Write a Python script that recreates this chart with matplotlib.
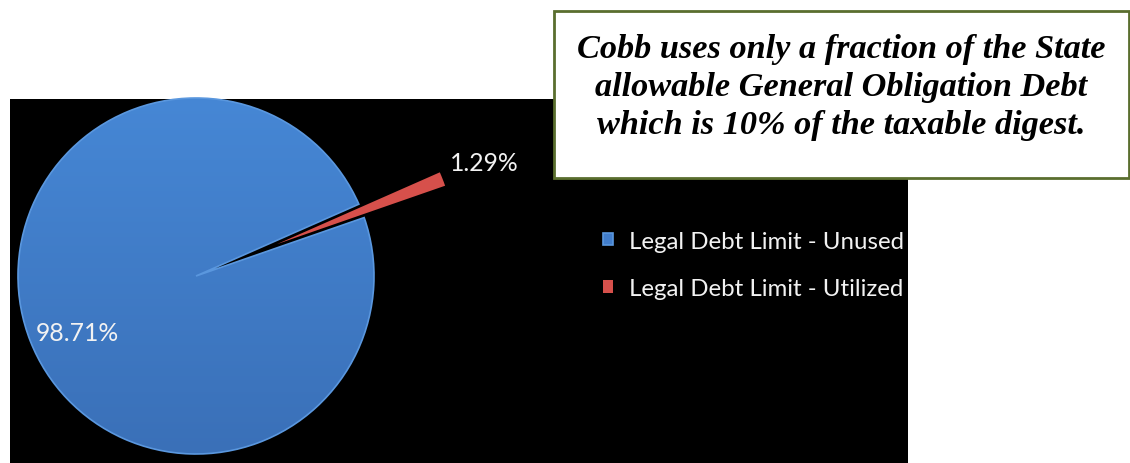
import numpy as np
import matplotlib
matplotlib.use("Agg")
import matplotlib.pyplot as plt
from matplotlib.patches import Rectangle, Wedge
from matplotlib.colors import LinearSegmentedColormap

# ---- data ----
categories = ["Legal Debt Limit - Unused", "Legal Debt Limit - Utilized"]
shares = [98.71, 1.29]
colors = ["#417DCB", "#D6504B"]
note = ("Cobb uses only a fraction of the State\n"
        "allowable General Obligation Debt\n"
        "which is 10% of the taxable digest.")

W, H = 1130, 464
fig = plt.figure(figsize=(W / 100, H / 100), dpi=100)
fig.patch.set_facecolor("white")
ax = fig.add_axes([0, 0, 1, 1])

# black chart area
ax.add_patch(Rectangle((10, 0), 898, 364, facecolor="black", edgecolor="none", zorder=0))

R = 178
cx, cy = 196, H - 277
wedges, _, autotexts = ax.pie(
    shares, colors=colors, startangle=23.8, radius=R, center=(cx, cy),
    explode=[0, 87], frame=True, autopct="%.2f%%",
    wedgeprops=dict(linewidth=0),
    textprops=dict(color="#F2F2F2", fontsize=17.8, family=["Lato", "DejaVu Sans"]),
)

# soft vertical shading on the large slice
grad = np.linspace(1, 0, 256).reshape(-1, 1)
cmap = LinearSegmentedColormap.from_list("bl", ["#3A70B8", "#4687D5"])
im = ax.imshow(grad, cmap=cmap, extent=(cx - R, cx + R, cy - R, cy + R),
               origin="upper", aspect="auto", zorder=1.5, interpolation="bilinear")
im.set_clip_path(wedges[0])
bg = Wedge(wedges[0].center, wedges[0].r, wedges[0].theta1, wedges[0].theta2,
           facecolor=colors[0], zorder=1.4)
ax.add_patch(bg)
wedges[0].set_edgecolor("#5A97DE")
wedges[0].set_linewidth(1.2)
wedges[0].set_zorder(1.6)
wedges[0].set_facecolor("none")

label_dist = [0.74, 1.25]
label_turn = [4.0, 0.0]
for w, t, d, a in zip(wedges, autotexts, label_dist, label_turn):
    th = np.deg2rad((w.theta1 + w.theta2) / 2 + a)
    x0, y0 = w.center
    t.set_position((x0 + d * w.r * np.cos(th), y0 + d * w.r * np.sin(th)))
    t.set_zorder(3)

ax.set_xlim(0, W)
ax.set_ylim(0, H)
ax.set_aspect("auto")
ax.set_axis_off()

leg = ax.legend(wedges, categories, loc="center left",
                bbox_to_anchor=(591, H - 266), bbox_transform=ax.transData,
                frameon=False, handlelength=0.42, handleheight=0.42,
                handletextpad=0.68, labelspacing=1.1, borderpad=0,
                prop=dict(family=["Lato", "DejaVu Sans"], size=17.3))
for txt in leg.get_texts():
    txt.set_color("#F2F2F2")
leg.legend_handles[0].set_facecolor(colors[0])

# note box
ax.add_patch(Rectangle((554, H - 179), 575, 167, facecolor="white",
                       edgecolor="#5A6E2E", linewidth=2, zorder=6))
ax.text(841, H - 87.5, note, ha="center", va="center", fontsize=24.7,
        family=["Liberation Serif", "DejaVu Serif"], fontweight="bold",
        fontstyle="italic", linespacing=1.29, color="black", zorder=7)

fig.savefig("out.png", dpi=100, facecolor="white")
